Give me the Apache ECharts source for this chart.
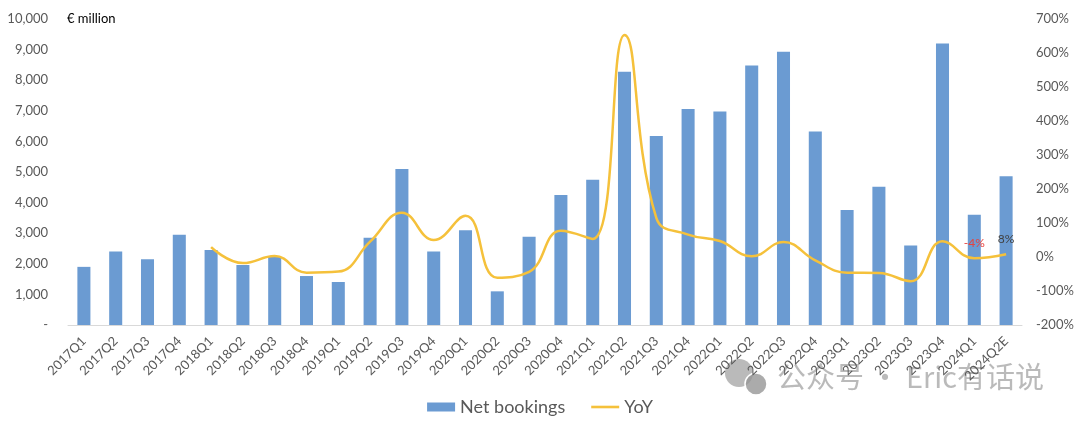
<!DOCTYPE html>
<html><head><meta charset="utf-8">
<script src="https://cdn.jsdelivr.net/npm/echarts@6/dist/echarts.min.js"></script>
<style>html,body{margin:0;padding:0;background:#fff}#c{width:1080px;height:422px}</style>
</head><body><div id="c"></div>
<script>
const categories = ['2017Q1','2017Q2','2017Q3','2017Q4','2018Q1','2018Q2','2018Q3','2018Q4','2019Q1','2019Q2','2019Q3','2019Q4','2020Q1','2020Q2','2020Q3','2020Q4','2021Q1','2021Q2','2021Q3','2021Q4','2022Q1','2022Q2','2022Q3','2022Q4','2023Q1','2023Q2','2023Q3','2023Q4','2024Q1','2024Q2E'];
const netBookings = [1900,2400,2150,2950,2450,1960,2220,1600,1405,2850,5100,2400,3100,1100,2880,4250,4750,8280,6180,7060,6980,8480,8930,6320,3760,4520,2600,9200,3600,4860];
const yoy = [null,null,null,null,0.29,-0.18,0.03,-0.46,-0.43,0.45,1.30,0.50,1.21,-0.61,-0.44,0.77,0.53,6.53,1.15,0.66,0.47,0.02,0.44,-0.10,-0.46,-0.47,-0.71,0.46,-0.04,0.08];
const annotations = [
  {category:'2024Q1', text:'-4%', color:'#E8413C'},
  {category:'2024Q2E', text:'8%', color:'#404040'}
];

const font = 'Lato, "Noto Sans", sans-serif';
const grey = '#595959';
const wm = 'rgba(140,140,140,0.6)';
const chart = echarts.init(document.getElementById('c'));
chart.setOption({
  animation:false,
  textStyle:{fontFamily:font},
  grid:{left:68,right:58,top:19,bottom:97},
  legend:{bottom:1,left:'center',itemGap:26,itemWidth:28,itemHeight:9,symbolKeepAspect:true,
    textStyle:{fontSize:18,color:grey,fontFamily:font},
    data:[{name:'Net bookings',icon:'rect'},{name:'YoY',icon:'path://M0,0 L28,0 L28,2.6 L0,2.6 Z'}]},
  graphic:[
    {type:'text',left:67,top:12,style:{text:'€ million',fontSize:13,fill:'#000',fontFamily:font}},
    {type:'circle',shape:{cx:739,cy:373,r:14},style:{fill:wm}},
    {type:'circle',shape:{cx:756,cy:384,r:11},style:{fill:'rgba(150,150,150,0.8)',stroke:'#fff',lineWidth:1.5}},
    {type:'text',left:777,top:362,style:{text:'公众号 · Eric有话说',fontSize:29,fill:wm,fontFamily:'"Noto Sans CJK SC", sans-serif'}}
  ],
  xAxis:{type:'category',data:categories,
    axisLine:{lineStyle:{color:'#D9D9D9'}},axisTick:{show:false},
    axisLabel:{rotate:45,fontSize:13,color:grey,interval:0,margin:14,fontFamily:font}},
  yAxis:[
    {type:'value',min:0,max:10000,interval:1000,splitLine:{show:false},
     axisLabel:{fontSize:13,color:grey,margin:20,fontFamily:font,
       formatter:v=>v===0?'-':v.toLocaleString('en-US')}},
    {type:'value',min:-2,max:7,interval:1,splitLine:{show:false},
     axisLabel:{fontSize:13,color:grey,margin:14,fontFamily:font,
       formatter:v=>Math.round(v*100)+'%'}}
  ],
  series:[
    {name:'Net bookings',type:'bar',data:netBookings,barWidth:'41%',
     itemStyle:{color:'#6B9BD2'}},
    {name:'YoY',type:'line',yAxisIndex:1,smooth:0.45,symbol:'none',showSymbol:false,
     lineStyle:{color:'#F5C13B',width:2.5},itemStyle:{color:'#F5C13B'},
     data:yoy,
     markPoint:{symbol:'circle',symbolSize:0,silent:true,
       data:annotations.map(a=>({coord:[a.category,yoy[categories.indexOf(a.category)]],
         label:{show:true,position:'top',distance:9,formatter:a.text,color:a.color,fontSize:12,fontFamily:font}}))}}
  ]
});
</script></body></html>
